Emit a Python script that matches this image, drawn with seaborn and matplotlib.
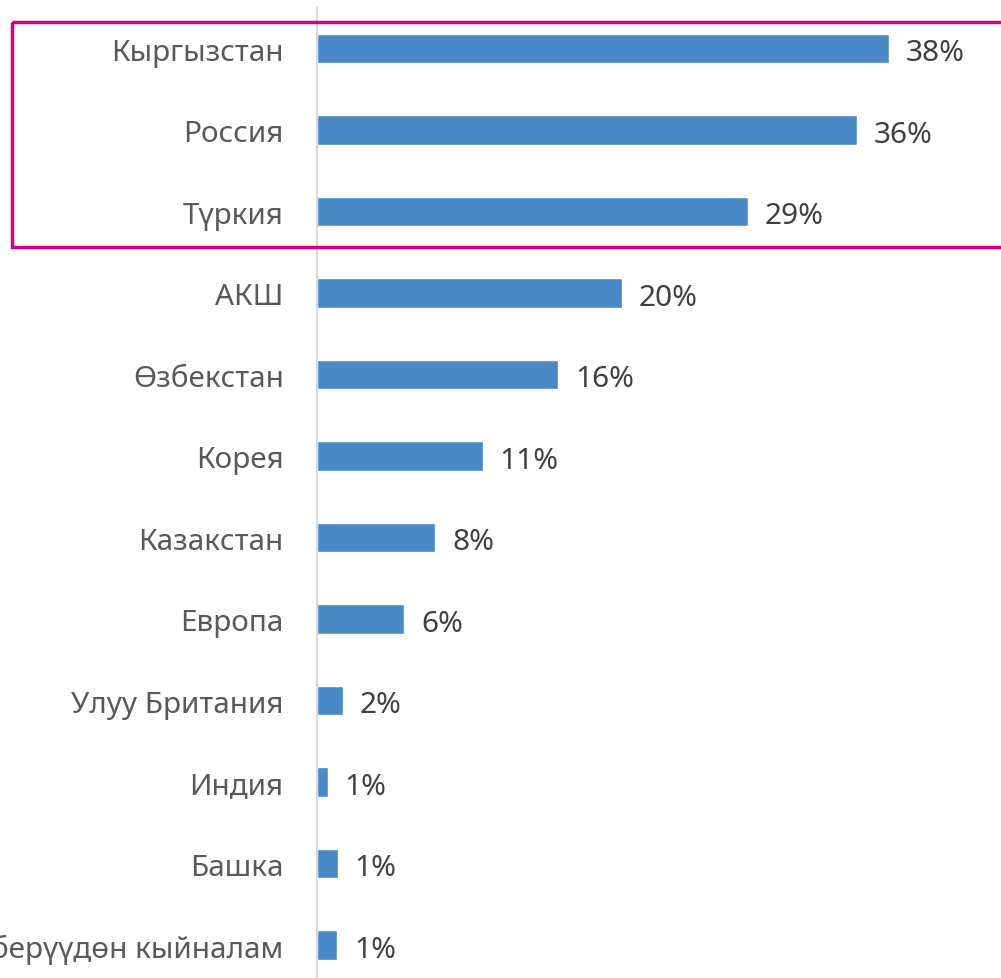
import matplotlib
matplotlib.use("Agg")
import matplotlib.pyplot as plt
import matplotlib.transforms as mtransforms
from matplotlib.patches import Rectangle
import seaborn as sns
import pandas as pd

categories = ["Кыргызстан", "Россия", "Түркия", "АКШ", "Өзбекстан", "Корея",
              "Казакстан", "Европа", "Улуу Британия", "Индия", "Башка",
              "Жооп берүүдөн кыйналам"]
values = [37.9, 35.8, 28.6, 20.2, 16.0, 11.0, 7.85, 5.8, 1.7, 0.7, 1.4, 1.35]
value_labels = ["38%", "36%", "29%", "20%", "16%", "11%", "8%", "6%", "2%", "1%", "1%", "1%"]

df = pd.DataFrame({"country": categories, "share": values})

sns.set_theme(style="white")
plt.rcParams["font.family"] = ["Noto Sans", "DejaVu Sans"]

fig = plt.figure(figsize=(10.01, 9.79), dpi=100)
ax = fig.add_axes([317 / 1001, (979 - 986.75) / 979, (1001 - 317) / 1001, 978 / 979])

sns.barplot(data=df, x="share", y="country", orient="h", color="#4A89C8",
            width=0.356, saturation=1, ax=ax)

ax.set_xlim(0, (1001 - 317) / 15.08)
ax.set_ylim(11.5, -0.5)
ax.set_xlabel("")
ax.set_ylabel("")
ax.set_xticks([])
for s in ["top", "right", "bottom"]:
    ax.spines[s].set_visible(False)
ax.spines["left"].set_color("#D9D9D9")
ax.spines["left"].set_linewidth(1.5)
ax.tick_params(axis="y", length=0, pad=24, labelsize=21.4, labelcolor="#595959")

texts = ax.bar_label(ax.containers[0], labels=value_labels, padding=12,
                     fontsize=21.5, color="#404040")
for t in texts:
    t.xyann = (12, -3)

# highlight box around top three rows
trans = mtransforms.blended_transform_factory(fig.transFigure, ax.transData)
rect = Rectangle((12 / 1001, -0.33), 1.0, 2.77, transform=trans,
                 fill=False, edgecolor="#D6007F", linewidth=2.5, clip_on=False)
fig.add_artist(rect)

fig.savefig("out.png", dpi=100)
